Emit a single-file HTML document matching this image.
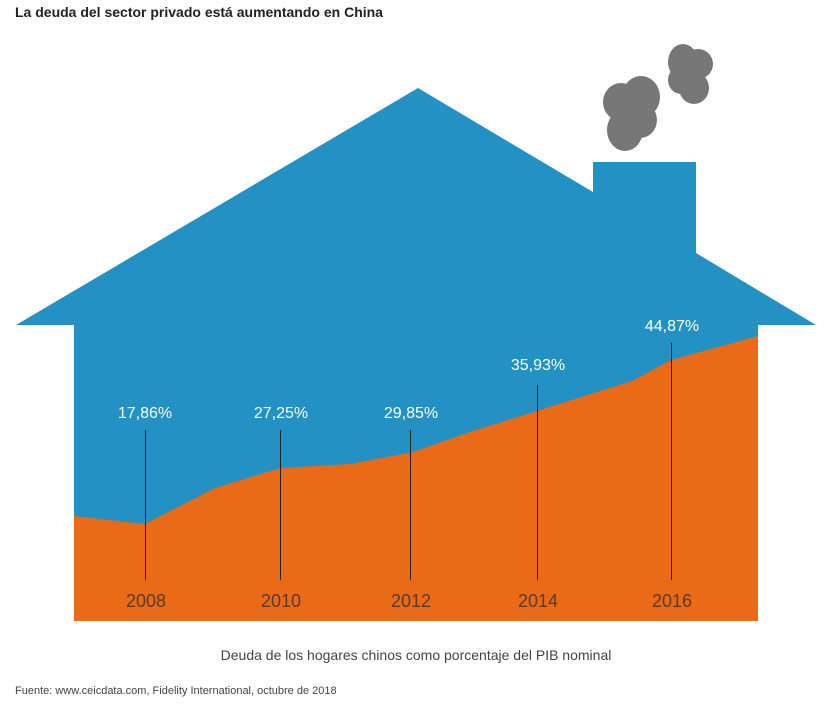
<!DOCTYPE html>
<html><head><meta charset="utf-8"><style>
html,body{margin:0;padding:0;background:#fff;}
body{width:824px;height:701px;overflow:hidden;font-family:"Liberation Sans",sans-serif;}
</style></head><body>
<svg width="824" height="701" viewBox="0 0 824 701" xmlns="http://www.w3.org/2000/svg">
<text x="15" y="17" font-size="14" font-weight="bold" fill="#222" font-family="Liberation Sans, sans-serif">La deuda del sector privado está aumentando en China</text>
<g fill="#777">
<ellipse cx="621" cy="102" rx="18" ry="19"/>
<ellipse cx="641" cy="97" rx="19" ry="21"/>
<ellipse cx="625" cy="130" rx="18" ry="21"/>
<ellipse cx="640" cy="120" rx="17" ry="18"/>
<ellipse cx="683" cy="62" rx="15" ry="18"/>
<ellipse cx="698" cy="64" rx="15" ry="15"/>
<ellipse cx="694" cy="88" rx="15" ry="16"/>
<ellipse cx="681" cy="80" rx="13" ry="14"/>
</g>
<polygon fill="#2391c3" points="16,325 418,88 593,192 593,162 696,162 696,253 816,325 758,325 758,621 74,621 74,325"/>
<polygon fill="#e96a17" points="74,516 145,524 215,488 280,468 350,464 413,452 470,432 540,410 632,381 671,360 758,336 758,621 74,621"/>
<g stroke="#222" stroke-width="1">
<line x1="145.5" y1="430" x2="145.5" y2="580"/>
<line x1="280.5" y1="430" x2="280.5" y2="580"/>
<line x1="410.5" y1="430" x2="410.5" y2="580"/>
<line x1="537.5" y1="385" x2="537.5" y2="580"/>
<line x1="671.5" y1="343" x2="671.5" y2="580"/>
</g>
<g fill="#fff" font-size="16" text-anchor="middle" font-family="Liberation Sans Narrow, Liberation Sans, sans-serif">
<text x="145" y="418">17,86%</text>
<text x="281" y="418">27,25%</text>
<text x="411" y="418">29,85%</text>
<text x="538" y="370">35,93%</text>
<text x="672" y="331">44,87%</text>
</g>
<g fill="#5b3a2a" font-size="18" text-anchor="middle" font-family="Liberation Sans Narrow, Liberation Sans, sans-serif">
<text x="146" y="607">2008</text>
<text x="281" y="607">2010</text>
<text x="411" y="607">2012</text>
<text x="538" y="607">2014</text>
<text x="672" y="607">2016</text>
</g>
<text x="416" y="660" font-size="14" fill="#444" text-anchor="middle">Deuda de los hogares chinos como porcentaje del PIB nominal</text>
<text x="15" y="694" font-size="11" fill="#444">Fuente: www.ceicdata.com, Fidelity International, octubre de 2018</text>
</svg>
</body></html>
